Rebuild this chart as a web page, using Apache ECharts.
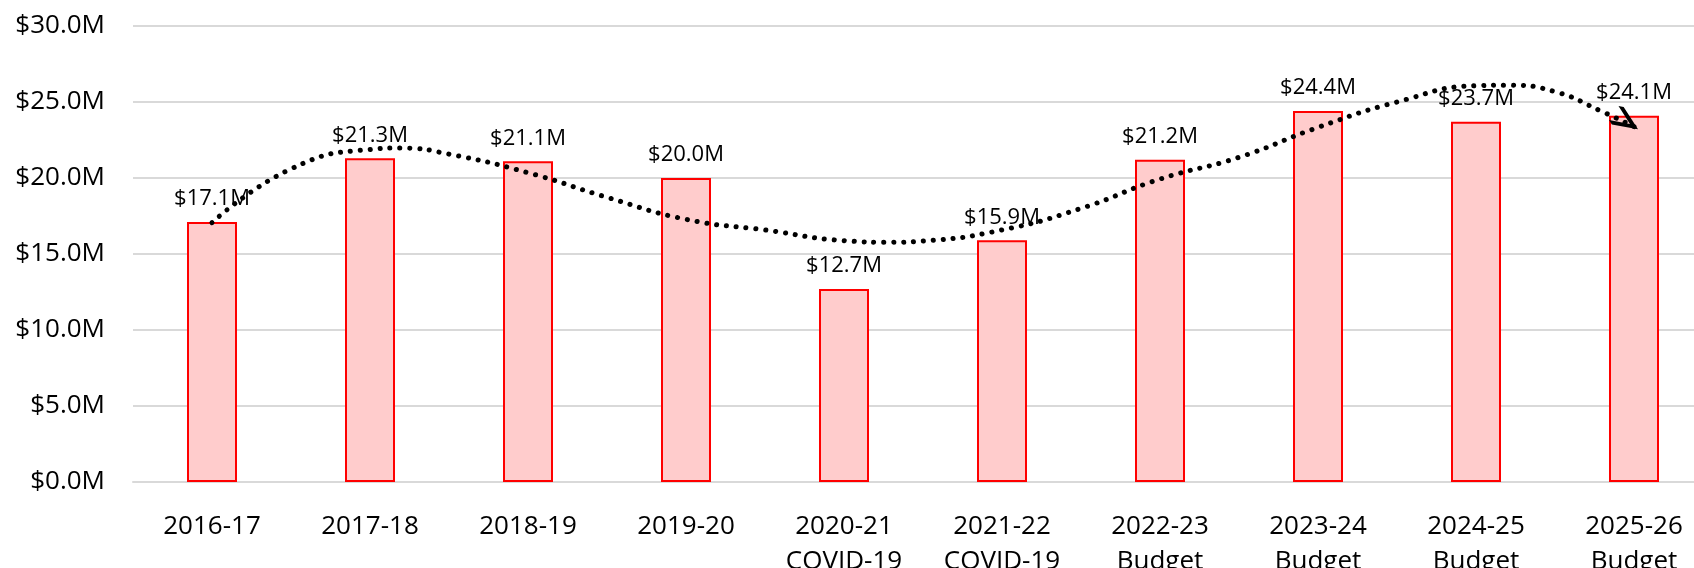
<!DOCTYPE html>
<html lang="en">
<head>
  <meta charset="UTF-8">
  <title>Revenue by year</title>
  <script src="https://cdn.jsdelivr.net/npm/echarts@6/dist/echarts.min.js"></script>
  <style>
    html, body { margin: 0; padding: 0; background: #fff; }
    #chart { width: 1694px; height: 568px; }
  </style>
</head>
<body>
  <div id="chart"></div>

  <script>
    // categories and the second line under some of them
    var years = ['2016-17', '2017-18', '2018-19', '2019-20', '2020-21',
                 '2021-22', '2022-23', '2023-24', '2024-25', '2025-26'];
    var yearNotes = ['', '', '', '', 'COVID-19', 'COVID-19', 'Budget', 'Budget', 'Budget', 'Budget'];

    // bar values, $M
    var revenue = [17.1, 21.3, 21.1, 20.0, 12.7, 15.9, 21.2, 24.4, 23.7, 24.1];

    // dotted trend line (x = category index)
    var trendX = [0, 0.5, 1, 1.2, 1.5, 2, 2.5, 3, 3.5, 4, 4.3, 4.5, 5, 5.5, 6, 6.5, 7, 7.5, 8, 8.2, 8.5, 8.8, 9];
    var trendY = [17.06, 20.6, 21.88, 21.97, 21.57, 20.35, 18.73, 17.28, 16.58, 15.88, 15.77, 15.85,
                  16.58, 18.0, 19.93, 21.36, 23.33, 25.0, 26.07, 26.1, 25.68, 24.36, 23.38];

    // y axis range, $M
    var yMin = 0, yMax = 30, yStep = 5;

    var textColor = '#000';
    var fontFamily = '"Open Sans", sans-serif';

    var xLabels = years.map(function (y, i) {
      return yearNotes[i] ? y + '\n' + yearNotes[i] : y;
    });

    var trendData = trendX.map(function (x, i) {
      return [x, trendY[i]];
    });
    // open arrow head at the end of the trend line; the tiny segment on the
    // far side keeps the tip in the middle of the symbol box
    var last = trendData.length - 1;
    trendData[last] = {
      value: trendData[last],
      symbol: 'path://M0,0 L21,9 L0,18 M42,9 L42,9.01',
      symbolSize: [44, 19],
      symbolRotate: -34,
      itemStyle: { color: 'none', borderColor: '#000', borderWidth: 4.5, borderJoin: 'miter', borderCap: 'butt' }
    };

    var chart = echarts.init(document.getElementById('chart'));

    var option = {
      animation: false,
      // the plot runs past the right edge and the labels past the bottom, as in the picture
      grid: { left: 133, right: -19, top: 26, bottom: 86, outerBoundsMode: 'none' },
      xAxis: [
        {
          type: 'category',
          data: xLabels,
          axisLine: { lineStyle: { color: '#d9d9d9', width: 2 } },
          axisTick: { show: false },
          axisLabel: {
            color: textColor,
            fontFamily: fontFamily,
            fontSize: 26,
            lineHeight: 35,
            margin: 27,
            interval: 0
          }
        },
        {
          type: 'value',
          min: -0.5,
          max: 9.5,
          show: false
        }
      ],
      yAxis: {
        type: 'value',
        min: yMin,
        max: yMax,
        interval: yStep,
        axisLine: { show: false },
        axisTick: { show: false },
        splitLine: { lineStyle: { color: '#d9d9d9', width: 2 } },
        axisLabel: {
          color: textColor,
          fontFamily: fontFamily,
          fontSize: 26,
          margin: 28,
          formatter: function (v) { return '$' + v.toFixed(1) + 'M'; }
        }
      },
      series: [
        {
          type: 'bar',
          data: revenue,
          barWidth: 50,
          itemStyle: { color: '#ffcccc', borderColor: '#ff0000', borderWidth: 2 },
          label: {
            show: true,
            position: 'top',
            distance: 12,
            color: textColor,
            fontFamily: fontFamily,
            fontSize: 22,
            formatter: function (p) { return '$' + p.value.toFixed(1) + 'M'; }
          }
        },
        {
          type: 'line',
          xAxisIndex: 1,
          data: trendData,
          smooth: 0.5,
          symbol: 'none',
          lineStyle: { color: '#000', width: 5, type: [0.1, 9.8], cap: 'round' },
          z: 5
        }
      ]
    };

    chart.setOption(option);
  </script>
</body>
</html>
